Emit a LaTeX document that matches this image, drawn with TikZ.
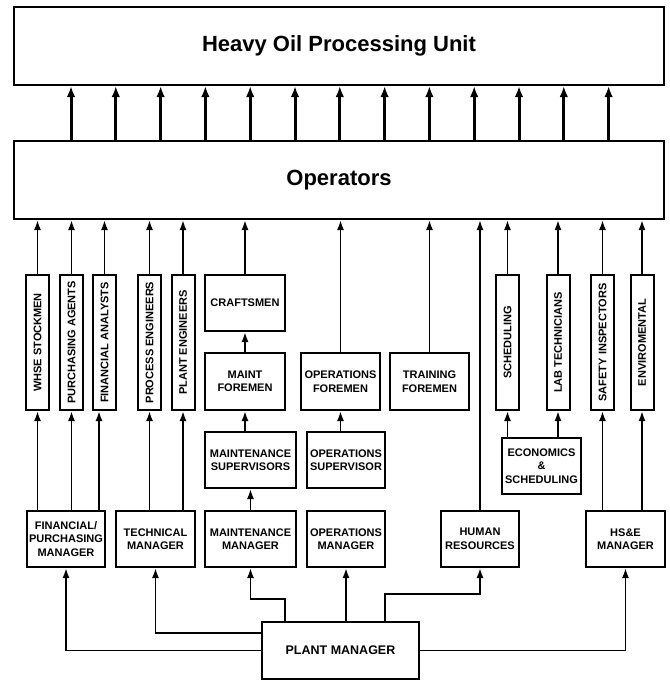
\documentclass[tikz,border=0pt]{standalone}
\usepackage{fontspec}
\setmainfont{Liberation Sans}
\usepackage{tikz}
\usetikzlibrary{arrows.meta,positioning}
\newcommand{\vlabel}[1]{\rotatebox{90}{#1}}

\begin{document}
\begin{tikzpicture}[x=1pt, y=-1pt,
        unitbox/.style={draw, rectangle, line width=2pt, minimum width=650pt, minimum height=78pt, font=\fontsize{22}{26}\selectfont\bfseries},
        staffbox/.style={draw, rectangle, line width=2pt, inner sep=1pt, align=center, minimum height=56pt, font=\fontsize{11}{13.5}\selectfont\bfseries},
        colbox/.style={staffbox, minimum width=23pt, minimum height=135pt},
        link/.style={-{Latex[length=10pt,width=7pt]}, line width=1.9pt},
        feed/.style={-{Latex[length=11pt,width=8.5pt]}, line width=3pt}]
        \useasboundingbox (0,0) rectangle (670,681);

        % Unit and operators
        \node[unitbox] (hopu) at (339,46) {Heavy Oil Processing Unit};
        \node[unitbox] (ops) at (339,180) {Operators};

        % Vertical staff columns
        \node[colbox] (whse) at (37.5,342.5) {\vlabel{WHSE STOCKMEN}};
        \node[colbox] (purch) at (71.5,342.5) {\vlabel{PURCHASING AGENTS}};
        \node[colbox] (fina) at (104.5,342.5) {\vlabel{FINANCIAL ANALYSTS}};
        \node[colbox] (proc) at (149.5,342.5) {\vlabel{PROCESS ENGINEERS}};
        \node[colbox] (plant) at (183,342.5) {\vlabel{PLANT ENGINEERS}};
        \node[colbox] (sched) at (507.5,342.5) {\vlabel{SCHEDULING}};
        \node[colbox] (lab) at (558,342.5) {\vlabel{LAB TECHNICIANS}};
        \node[colbox] (safety) at (602.5,342.5) {\vlabel{SAFETY INSPECTORS}};
        \node[colbox] (env) at (642,342.5) {\vlabel{ENVIROMENTAL}};

        % Crews and supervisors
        \node[staffbox, minimum width=80pt] (craft) at (245,303) {CRAFTSMEN};
        \node[staffbox, minimum width=80pt, minimum height=57pt] (mforemen) at (245,381.5) {MAINT\\FOREMEN};
        \node[staffbox, minimum width=91pt] (msup) at (250.5,460) {MAINTENANCE\\SUPERVISORS};
        \node[staffbox, minimum width=79pt, minimum height=57pt] (oforemen) at (340.5,381.5) {OPERATIONS\\FOREMEN};
        \node[staffbox, minimum width=78pt] (osup) at (346,460) {OPERATIONS\\SUPERVISOR};
        \node[staffbox, minimum width=79pt, minimum height=57pt] (tforemen) at (429.5,381.5) {TRAINING\\FOREMEN};
        \node[staffbox, minimum width=79pt] (econ) at (541.5,466) {ECONOMICS\\\&\\SCHEDULING};

        % Managers
        \node[staffbox, minimum width=78pt] (fpm) at (66,539) {FINANCIAL/\\PURCHASING\\MANAGER};
        \node[staffbox, minimum width=79pt] (tech) at (155.5,539) {TECHNICAL\\MANAGER};
        \node[staffbox, minimum width=91pt] (mmgr) at (250.5,539) {MAINTENANCE\\MANAGER};
        \node[staffbox, minimum width=78pt] (omgr) at (346,539) {OPERATIONS\\MANAGER};
        \node[staffbox, minimum width=78pt] (hr) at (480,539) {HUMAN\\RESOURCES};
        \node[staffbox, minimum width=79pt] (hse) at (625.5,539) {HS\&E\\MANAGER};
        \node[staffbox, minimum width=157pt, minimum height=57pt, font=\fontsize{12.5}{15}\selectfont\bfseries] (pm) at (340.5,650.5) {PLANT MANAGER};

        % Operators to unit
        \foreach \i in {0,...,12} {
            \coordinate (tap) at ({71+44.8*\i},0);
            \draw[feed] (tap |- ops.north) -- (tap |- hopu.south);
        }

        % Columns to operators
        \foreach \c in {whse, purch, fina, proc, plant, sched, lab, safety, env, craft, oforemen, tforemen, hr}
            \draw[link] (\c.north) -- (ops.south -| \c.north);

        % Managers to columns
        \coordinate (finafoot) at ([xshift=-5.5pt]fina.south);
        \draw[link] (fpm.north -| whse) -- (whse.south);
        \draw[link] (fpm.north -| purch) -- (purch.south);
        \draw[link] (finafoot |- fpm.north) -- (finafoot);
        \draw[link] (tech.north -| proc) -- (proc.south);
        \draw[link] (tech.north -| plant) -- (plant.south);
        \draw[link] (econ.north -| sched) -- (sched.south);
        \draw[link] (econ.north -| lab) -- (lab.south);
        \draw[link] (hse.north -| safety) -- (safety.south);
        \draw[link] (hse.north -| env) -- (env.south);

        % Chains of command
        \draw[link] (mforemen.north) -- (craft.south);
        \draw[link] (msup.north -| mforemen) -- (mforemen.south);
        \draw[link] (mmgr.north) -- (msup.south);
        \draw[link] (osup.north -| oforemen) -- (oforemen.south);

        % Plant manager to managers
        \draw[link] (pm.west) -| (fpm.south);
        \draw[link] ([yshift=17.5pt]pm.west) -| (tech.south);
        \draw[link] ([xshift=-55.5pt]pm.north) -- ++(0,-22) -| (mmgr.south);
        \draw[link] (pm.north -| omgr) -- (omgr.south);
        \draw[link] ([xshift=44.5pt]pm.north) -- ++(0,-27) -| (hr.south);
        \draw[link] (pm.east) -| (hse.south);
    \end{tikzpicture}
\end{document}
